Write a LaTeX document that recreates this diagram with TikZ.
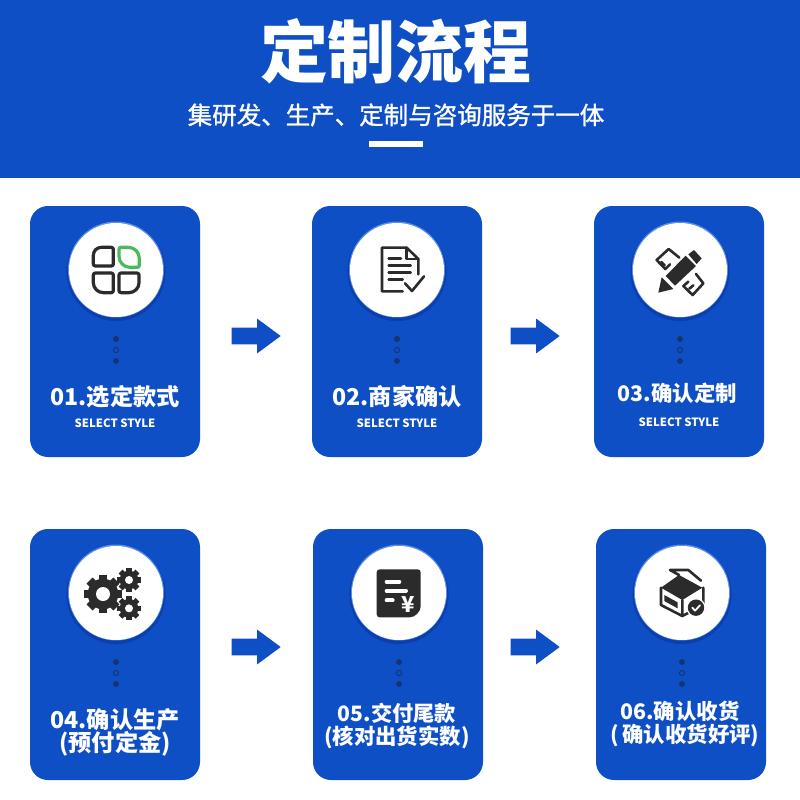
\documentclass[tikz,border=0pt]{standalone}
\usepackage{fontspec}
\usepackage{tikz}
\usetikzlibrary{shapes.arrows}
\setmainfont{Noto Sans CJK SC}
\newfontfamily\subtitlefont[FakeBold=1.2]{Noto Sans CJK SC}
\definecolor{brandblue}{HTML}{0F4FC6}
\definecolor{shadowblue}{HTML}{0B3FAE}
\definecolor{rimblue}{HTML}{5C8DE8}
\definecolor{dotnavy}{HTML}{14356F}
\definecolor{icondark}{HTML}{2B2B2B}
\definecolor{leafgreen}{HTML}{4DB85C}

\begin{document}
\begin{tikzpicture}[x=0.5pt, y=-0.5pt,
    card/.style={fill=brandblue, rounded corners=9pt, minimum width=85pt, minimum height=125.5pt, inner sep=0pt},
    badge/.style={circle, fill=white, minimum size=47pt, inner sep=0pt},
    blockarrow/.style={single arrow, fill=brandblue, minimum height=24.5pt, minimum width=17pt, inner sep=4pt, single arrow head extend=4.5pt, single arrow tip angle=73},
    cardtitle/.style={text=white, font=\bfseries\fontsize{#1}{13pt}\selectfont, inner sep=0pt},
    cardsub/.style={text=white, font=\bfseries\fontsize{5.7pt}{7pt}\selectfont, inner sep=0pt},
    zoomed/.style 2 args={shift={(#1,#2)}, x=0.16667pt, y=-0.16667pt},
    iconline/.style={draw=icondark, line width=1.3pt, line join=round, line cap=round}]

    % Fix the page and draw the header
    \fill[white] (0,0) rectangle (800,800);
    \useasboundingbox (0,0) rectangle (800,800);
    \fill[brandblue] (0,0) rectangle (800,178);
    \node[text=white, font=\bfseries\fontsize{34pt}{36pt}\selectfont, inner sep=0pt] (title) at (396,51) {定制流程};
    \node[text=white, font=\subtitlefont\fontsize{12.25pt}{14pt}\selectfont, inner sep=0pt] (subtitle) at (396,115) {集研发、生产、定制与咨询服务于一体};
    \fill[white] (369,141) rectangle (423,147);

    % Cards
    \node[card] (card1) at (115,331.5) {};
    \node[card] (card2) at (397,331.5) {};
    \node[card] (card3) at (679,331.5) {};
    \node[card] (card4) at (115,654.5) {};
    \node[card] (card5) at (398,654.5) {};
    \node[card] (card6) at (681,654.5) {};

    % Arrows between the cards
    \node[blockarrow] (arrow1) at (250.5,336) {};
    \node[blockarrow] (arrow2) at (529.5,336) {};
    \node[blockarrow] (arrow3) at (250.5,647) {};
    \node[blockarrow] (arrow4) at (529.5,647) {};

    % White badges with their soft edge, and the three dots under each
    \foreach \cx/\cy/\nm in {116/270/1, 397/270/2, 680/270/3, 116/593/4, 399/593/5, 682/593/6} {
      \fill[shadowblue] (\cx,\cy+1.5) circle (24.8pt);
      \fill[rimblue] (\cx,\cy-0.5) circle (24pt);
      \node[badge] (badge\nm) at (\cx,\cy) {};
      \fill[dotnavy] (\cx,\cy+69) circle (1.5pt);
      \draw[dotnavy, line width=0.5pt] (\cx,\cy+80) circle (1.3pt);
      \fill[dotnavy] (\cx,\cy+91) circle (1.5pt);
    }

    % Card labels
    \node[cardtitle=11.6pt] (label1) at (115,397) {01.选定款式};
    \node[cardsub] (sub1) at (115,423) {SELECT STYLE};
    \node[cardtitle=11.6pt] (label2) at (397,397) {02.商家确认};
    \node[cardsub] (sub2) at (397,423) {SELECT STYLE};
    \node[cardtitle=10.7pt] (label3) at (677.5,393) {03.确认定制};
    \node[cardsub] (sub3) at (679,422) {SELECT STYLE};
    \node[cardtitle=11.6pt] (label4) at (115,720) {04.确认生产};
    \node[cardtitle=11.6pt] (note4) at (115,744) {(预付定金)};
    \node[cardtitle=10.6pt] (label5) at (397,713) {05.交付尾款};
    \node[cardtitle=10.7pt] (note5) at (397,737) {(核对出货实数)};
    \node[cardtitle=10.7pt] (label6) at (680,711) {06.确认收货};
    \node[cardtitle=10.7pt] (note6) at (685,735) {(\,确认收货好评)};

    % Icon 1: four rounded panes, one green
    \begin{scope}[zoomed={30}{205}]
      \draw[iconline, line width=1.6pt] (250,127) [rounded corners=1pt] -- (250,183) -- (190,183) [rounded corners=4pt] -- (190,127) [rounded corners=1pt] -- cycle;
      \draw[iconline, draw=leafgreen, line width=1.6pt] (267,127) [rounded corners=5.5pt] -- (328,127) [rounded corners=1pt] -- (328,187) [rounded corners=5.5pt] -- (267,187) [rounded corners=1pt] -- cycle;
      \draw[iconline, line width=1.6pt] (250,204) [rounded corners=1pt] -- (250,263) [rounded corners=5pt] -- (190,263) [rounded corners=1pt] -- (190,204) -- cycle;
      \draw[iconline, line width=1.6pt] (267,204) [rounded corners=1pt] -- (327,204) [rounded corners=5pt] -- (327,263) [rounded corners=1pt] -- (267,263) -- cycle;
    \end{scope}

    % Icon 2: document with a tick
    \begin{scope}[zoomed={340}{215}]
      \draw[iconline] (188,229) -- (126,229) -- (126,98) -- (200,98) -- (235,132) -- (235,178);
      \draw[iconline] (200,98) -- (200,132) -- (235,132);
      \draw[iconline] (146,131) -- (183,131);
      \draw[iconline] (146,152) -- (212,152);
      \draw[iconline] (146,172) -- (212,172);
      \draw[iconline] (146,193) -- (188,193);
      \draw[iconline] (195,205) -- (216,228) -- (252,184);
    \end{scope}

    % Icon 3: pencil over a ruler
    \begin{scope}[zoomed={620}{215}]
      \draw[iconline] (178,128) -- (146,102) -- (110,135) -- (136,162) -- (150,148);
      \draw[iconline] (124,141) -- (134,151);
      \draw[iconline] (228,177) -- (250,205) -- (218,240) -- (190,213) -- (205,200);
      \draw[iconline] (208,221) -- (220,211);
      \fill[icondark] (137,183) -- (197,122) -- (228,153) -- (165,212) -- cycle;
      \fill[icondark] (115,233) -- (125,187) -- (160,222) -- cycle;
      \fill[icondark] (205,118) -- (222,105) -- (245,130) -- (230,147) -- cycle;
    \end{scope}

    % Icon 4: three gears
    \begin{scope}[zoomed={60}{540}]
      \foreach \gx/\gy/\gr/\gh/\tw/\gt in {129/162/46/21/26/57, 207/120/28/12/16/36, 207/205/28/12/16/36} {
        \fill[icondark] (\gx,\gy) circle (\gr*0.16667pt);
        \foreach \ang in {0,45,...,315} {
          \fill[icondark, rotate around={\ang:(\gx,\gy)}] (\gx-\tw/2,\gy-\gt) rectangle (\gx+\tw/2,\gy);
        }
        \fill[white] (\gx,\gy) circle (\gh*0.16667pt);
      }
    \end{scope}

    % Icon 5: bill with a yen sign
    \begin{scope}[zoomed={340}{540}]
      \fill[icondark, rounded corners=1.5pt] (110,88) -- (242,88) -- (242,190) .. controls (242,215) and (225,232) .. (200,232) -- (110,232) -- cycle;
      \draw[white, line width=2pt, line cap=round] (140,125) -- (178,125);
      \draw[white, line width=2pt, line cap=round] (140,152) -- (198,152);
      \draw[white, line width=2pt, line cap=round] (140,181) -- (158,181);
      \node[text=white, font=\bfseries\fontsize{11pt}{12pt}\selectfont, inner sep=0pt] (yen) at (205,195) {¥};
    \end{scope}

    % Icon 6: open box with a check badge
    \begin{scope}[zoomed={625}{540}]
      \draw[iconline] (162,105) -- (135,90) -- (190,90) -- (228,122);
      \fill[icondark] (108,143) -- (162,105) -- (232,143) -- (172,180) -- cycle;
      \draw[iconline] (108,143) -- (108,195) -- (172,228) -- (172,180);
      \draw[iconline] (172,228) -- (235,195) -- (235,143);
      \fill[icondark] (118,165) -- (158,187) -- (158,205) -- (118,183) -- cycle;
      \fill[white] (213,203) circle (4.8pt);
      \fill[icondark] (213,203) circle (4.1pt);
      \draw[white, line width=0.9pt, line cap=round, line join=round] (202,203) -- (210,212) -- (225,196);
    \end{scope}

\end{tikzpicture}
\end{document}
